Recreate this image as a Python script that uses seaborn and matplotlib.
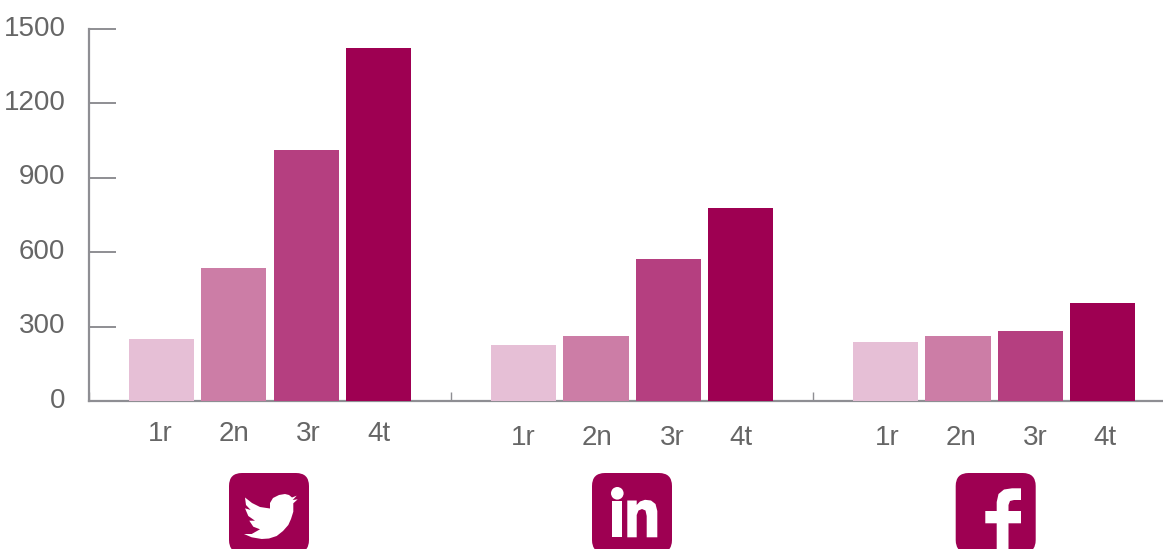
import matplotlib
matplotlib.use("Agg")
import matplotlib.pyplot as plt
import pandas as pd
import seaborn as sns
from matplotlib.patches import FancyBboxPatch, Circle, Polygon, Rectangle
from matplotlib.transforms import Affine2D, ScaledTranslation

networks = ["Twitter", "LinkedIn", "Facebook"]
quarters = ["1r", "2n", "3r", "4t"]
first = [250, 226, 238]
second = [536, 262, 262]
third = [1012, 573, 282]
fourth = [1423, 778, 395]
yticks = [0, 300, 600, 900, 1200, 1500]
colors = ["#E6BFD6", "#CC7DA6", "#B53F80", "#9E0052"]
grey = "#8E8E93"
text_grey = "#666666"

sns.set_theme(style="white")
plt.rcParams["font.family"] = ["Liberation Sans", "DejaVu Sans"]

rows = []
for q, vals in zip(quarters, [first, second, third, fourth]):
    for n, v in zip(networks, vals):
        rows.append({"network": n, "quarter": q, "value": v})
df = pd.DataFrame(rows)

W, H = 1163, 549
fig = plt.figure(figsize=(W / 100, H / 100), dpi=100)
ax = fig.add_axes([89 / W, 1 - 401 / H, (W - 89) / W, 372 / H])

sns.barplot(data=df, x="network", y="value", hue="quarter", palette=colors,
            width=0.8, gap=0.1, saturation=1, legend=False, ax=ax, zorder=3,
            linewidth=0)

ax.set_xlim(-0.5, 2.466)
ax.set_ylim(0, 1500)
ax.set_xlabel("")
ax.set_ylabel("")
sns.despine(ax=ax)
for s in ["left", "bottom"]:
    ax.spines[s].set_color(grey)
    ax.spines[s].set_linewidth(1.6)

ax.set_yticks(yticks)
ax.set_yticklabels([str(t) for t in yticks])
ax.tick_params(axis="y", direction="in", length=19.5, width=1.4, color=grey,
               labelcolor=text_grey, labelsize=20, pad=17, left=True)
ax.set_xticks([-0.5, 0.5, 1.5])
ax.set_xticklabels([])
ax.tick_params(axis="x", direction="in", length=6.5, width=1, color=grey, bottom=True)
lift = ScaledTranslation(0, 3.5 / 100, fig.dpi_scale_trans)
for lab in ax.get_yticklabels():
    lab.set_transform(lab.get_transform() + lift)

# quarter labels under each bar, the reference sets them slightly off centre
label_dx = [-1, 0, 2, 0, 0, 1, 4, 0, 2, 3, 5, 2]
bars = [p for p in ax.patches if p.get_width() > 0 and p.get_height() > 0]
bars = sorted(bars, key=lambda p: p.get_x())
for i, p in enumerate(bars):
    px = 434 if i < 4 else 438
    ax.annotate(quarters[i % 4], (p.get_x() + p.get_width() / 2, 0),
                xycoords=("data", "axes fraction"),
                xytext=(label_dx[i] * 0.72, (401 - px) * 0.72), textcoords="offset points",
                ha="center", va="center", fontsize=20, color=text_grey)

# icons, drawn in image pixels
to_px = Affine2D().scale(1, -1).translate(0, H)
dark = colors[3]


def add(patch):
    patch.set_transform(to_px)
    patch.set_clip_on(False)
    fig.add_artist(patch)


for left in [229, 592, 955.7]:
    add(FancyBboxPatch((left, 473), 80, 80, boxstyle="round,pad=0,rounding_size=13",
                       facecolor=dark, edgecolor="none", linewidth=0))

# bird
bird = [(245, 497.5), (252, 503), (260, 507), (270, 508.5), (270, 503), (273, 498), (279, 495),
        (285, 494), (289, 495), (292, 497.5), (296.7, 495.7), (292.7, 500), (297.7, 499.3),
        (293.3, 503.3), (293.3, 511.7), (291, 519), (288.3, 525), (283, 531), (276.7, 536),
        (269, 538.5), (261.7, 539), (251.7, 537.3), (244, 534), (251.7, 534), (260, 529.3),
        (253.3, 526.7), (249.3, 520.7), (255, 520.7), (248.3, 516), (245, 508.3), (250.7, 510),
        (246, 505)]
add(Polygon(bird, closed=True, facecolor="white", edgecolor="none"))

# in
add(Circle((617.3, 493.3), 6.3, facecolor="white", edgecolor="none"))
add(Rectangle((612.3, 500.5), 10, 36.8, facecolor="white", edgecolor="none"))
add(Polygon([(627.3, 537.3), (627.3, 500.5), (636.7, 500.5), (636.7, 505), (640, 501.5),
             (645, 499.8), (651, 500.5), (655.5, 504), (657.3, 511), (657.3, 537.3),
             (646.7, 537.3), (646.7, 516), (645.5, 510.5), (642, 509), (638.5, 510.5),
             (636.7, 515), (636.7, 537.3)],
            closed=True, facecolor="white", edgecolor="none"))

# f
add(Polygon([(1021, 488.3), (1021, 500), (1014, 500), (1010, 501), (1008.5, 505), (1008.5, 511),
             (1021, 511), (1021, 523.3), (1008.5, 523.3), (1008.5, 553), (996.7, 553),
             (996.7, 523.3), (985.3, 523.3), (985.3, 511), (996.7, 511), (996.7, 502),
             (998.5, 494), (1004, 489.5), (1012, 488.3)],
            closed=True, facecolor="white", edgecolor="none"))

fig.savefig("out.png", dpi=100)
